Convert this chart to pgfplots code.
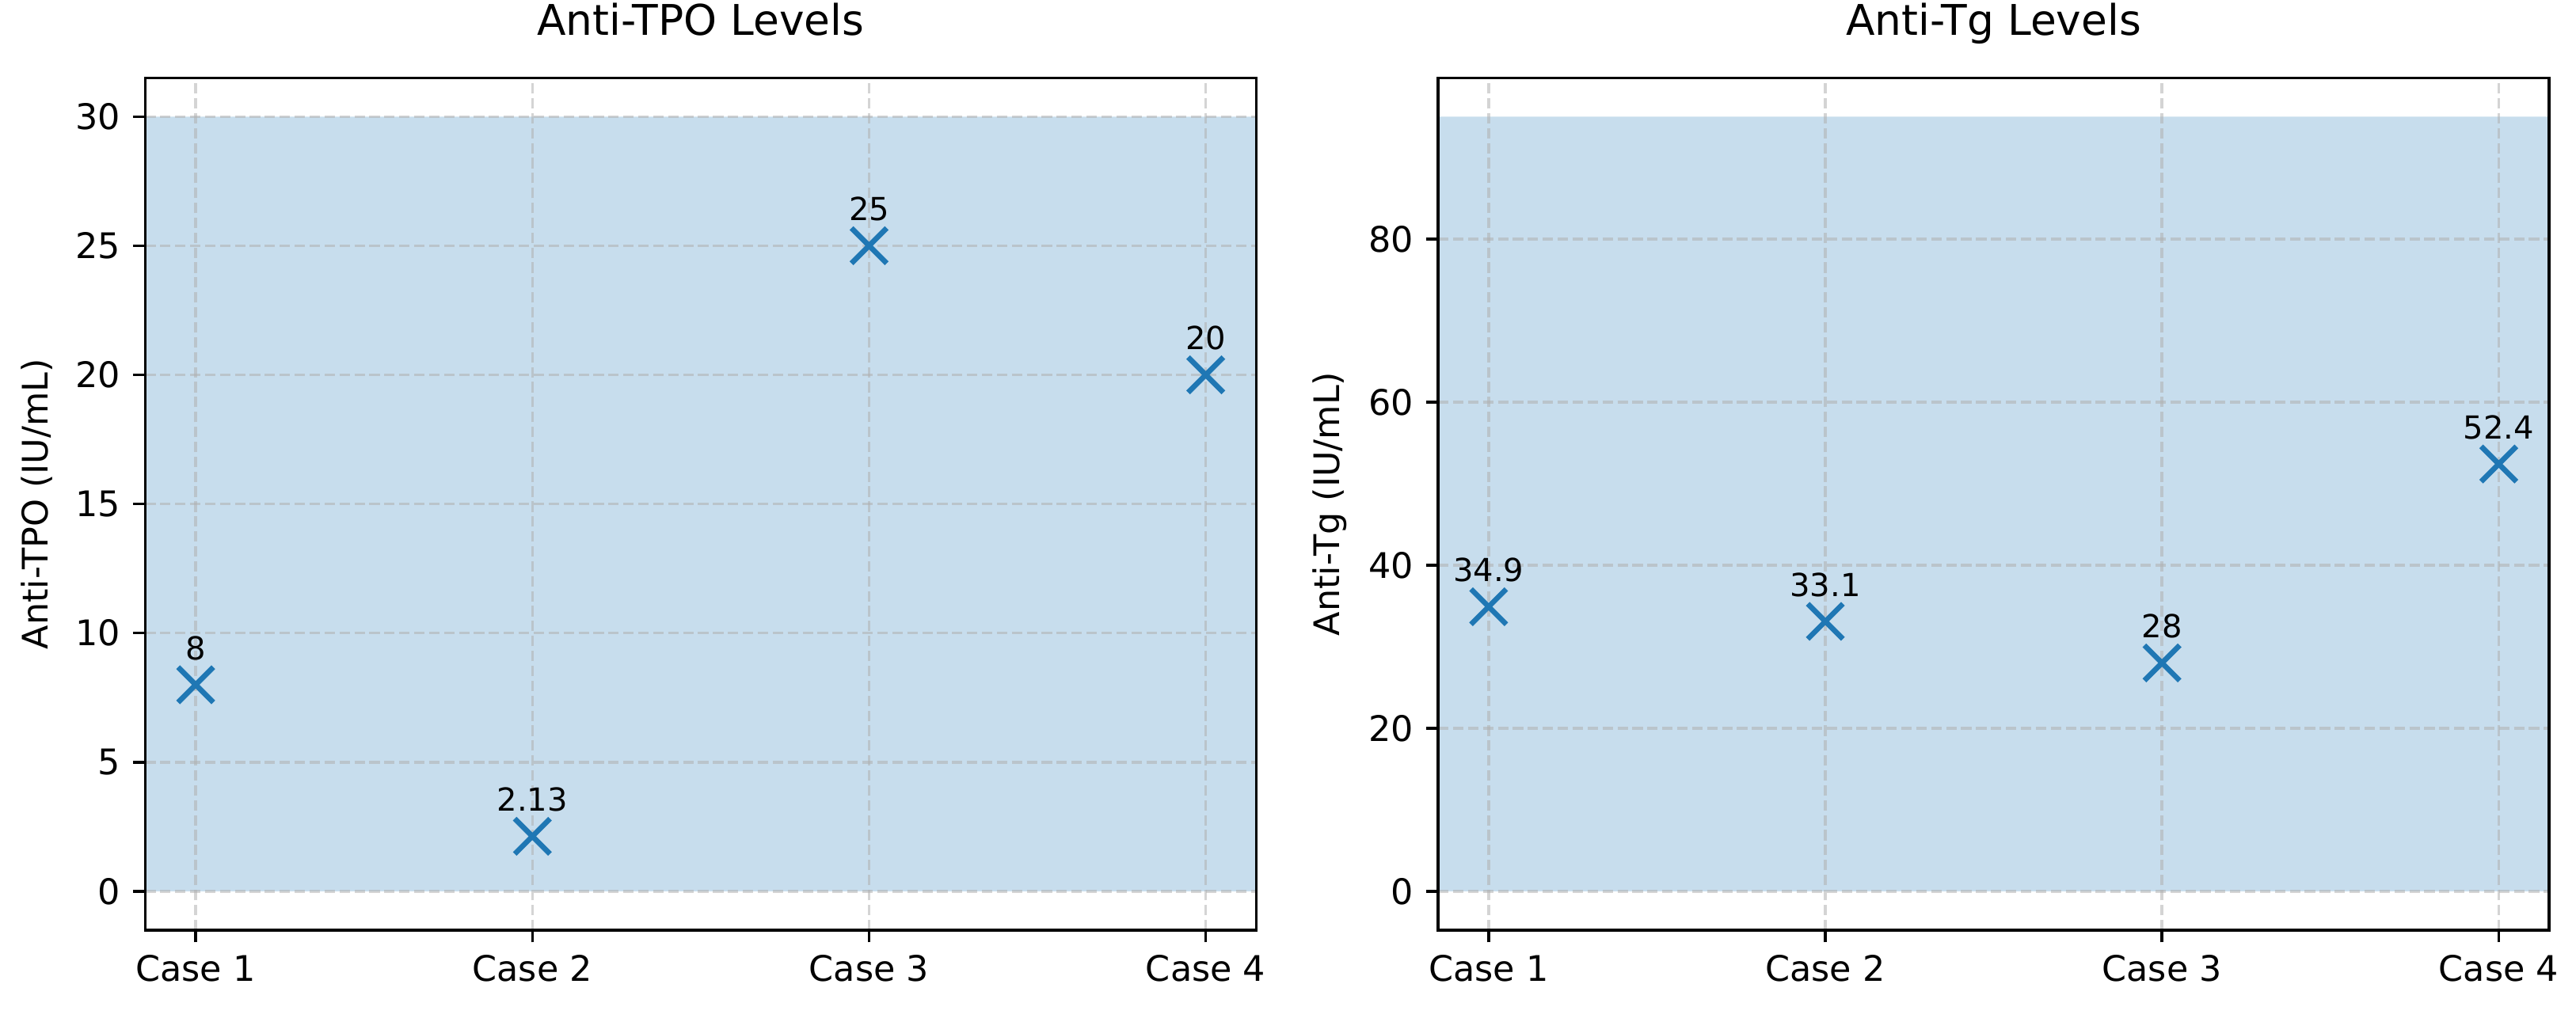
\documentclass[border=0pt]{standalone}
\usepackage{fontspec}
\setmainfont{DejaVu Sans}
\usepackage{pgfplots}
\pgfplotsset{compat=1.18}

\definecolor{tabblue}{HTML}{1F77B4}
\definecolor{shade}{HTML}{C7DDED}
\definecolor{gridgray}{HTML}{B0B0B0}

\pgfplotsset{
  caseaxis/.style={
    set layers,
    scale only axis,
    width=315.3pt, height=241.9pt,
    anchor=south west,
    xmin=-0.15, xmax=3.15,
    xtick={0,1,2,3},
    xticklabels={Case 1,Case 2,Case 3,Case 4},
    xtick pos=bottom, ytick pos=left,
    tick align=outside,
    major tick length=3.5pt,
    tick style={black, line width=0.8pt},
    axis line style={black, line width=0.8pt},
    grid=major,
    major grid style={gridgray, opacity=0.55, line width=0.8pt, dash pattern=on 2.96pt off 1.28pt},
    tick label style={font=\fontsize{10}{12}\selectfont},
    /pgf/number format/assume math mode=true,
    ylabel style={font=\fontsize{10}{12}\selectfont,
      at={([xshift=-30.8pt]axis description cs:0,0.5)}, anchor=center},
    title style={font=\fontsize{12}{14}\selectfont, at={(axis description cs:0.5,1)},
      anchor=base, inner sep=0pt, yshift=6pt},
  },
  shadeband/.style={fill=shade, draw=none, on layer=axis background, forget plot},
  casemarks/.style={
    only marks, mark=x, mark size=7.07pt, color=tabblue,
    mark options={line width=1.5pt},
    point meta=explicit symbolic,
    nodes near coords={\pgfplotspointmeta},
    every node near coord/.style={black, font=\fontsize{9}{11}\selectfont,
      anchor=base, inner sep=0pt, yshift=7.1pt},
  },
}

\begin{document}
\begin{tikzpicture}

% left panel
\begin{axis}[caseaxis,
  at={(41.2pt,26.1pt)},
  ymin=-1.5, ymax=31.5,
  ytick={0,5,10,15,20,25,30},
  title={Anti-TPO Levels},
  ylabel={Anti-TPO (IU/mL)},
]
\addplot[shadeband] coordinates {(-0.15,0) (3.15,0) (3.15,30) (-0.15,30) (-0.15,0)};
\addplot[casemarks] coordinates {
  (0,8) [8]
  (1,2.13) [2.13]
  (2,25) [25]
  (3,20) [20]
};
\end{axis}

% right panel
\begin{axis}[caseaxis,
  at={(408.1pt,26.1pt)},
  ymin=-4.75, ymax=99.75,
  ytick={0,20,40,60,80},
  title={Anti-Tg Levels},
  ylabel={Anti-Tg (IU/mL)},
]
\addplot[shadeband] coordinates {(-0.15,0) (3.15,0) (3.15,95) (-0.15,95) (-0.15,0)};
\addplot[casemarks] coordinates {
  (0,34.9) [34.9]
  (1,33.1) [33.1]
  (2,28) [28]
  (3,52.4) [52.4]
};
\end{axis}

% page frame, same proportions as the reference
\path (0,0) rectangle (731pt,290.1pt);
\end{tikzpicture}
\end{document}
